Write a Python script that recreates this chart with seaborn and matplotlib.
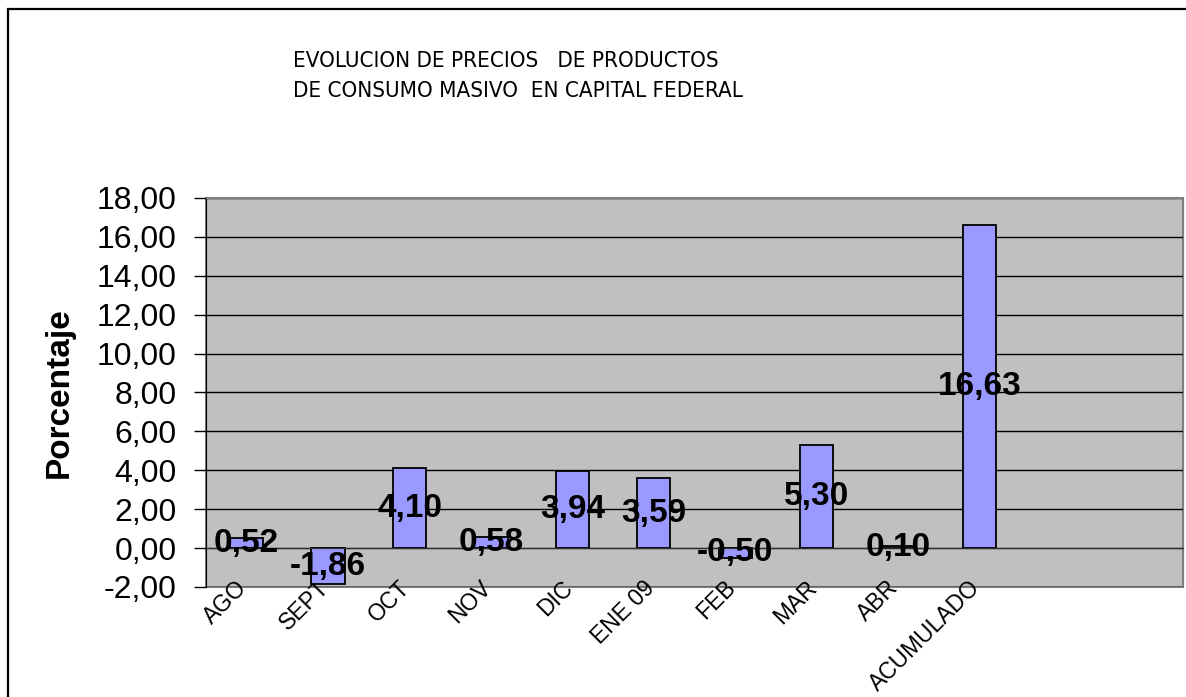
import numpy as np
import matplotlib
matplotlib.use("Agg")
import matplotlib.pyplot as plt
import seaborn as sns
from matplotlib import font_manager
from matplotlib.patches import Rectangle
from matplotlib.ticker import FuncFormatter
from matplotlib.transforms import ScaledTranslation

# datos
meses = ['AGO', 'SEPT', 'OCT', 'NOV', 'DIC', 'ENE 09', 'FEB', 'MAR', 'ABR', 'ACUMULADO']
variacion = [0.52, -1.86, 4.10, 0.58, 3.94, 3.59, -0.50, 5.30, 0.10, 16.63]
huecos = ['', ' ']  # dos categorias vacias al final, como en el original
y_ticks = list(range(-2, 19, 2))

titulo_1 = 'EVOLUCION DE PRECIOS   DE PRODUCTOS'
titulo_2 = 'DE CONSUMO MASIVO  EN CAPITAL FEDERAL'

sns.set_style('white')
plt.rcParams['font.family'] = ['Liberation Sans', 'DejaVu Sans']
plt.rcParams['text.color'] = 'black'
plt.rcParams['axes.labelcolor'] = 'black'
plt.rcParams['xtick.color'] = 'black'
plt.rcParams['ytick.color'] = 'black'

# el titulo del original usa una letra estrecha; se busca una condensada si la hay
nombres = {f.name for f in font_manager.fontManager.ttflist}
fuente_titulo = {'family': 'Liberation Sans', 'size': 15}
if 'Liberation Sans Narrow' in nombres:
    fuente_titulo = {'family': 'Liberation Sans Narrow', 'size': 18}
else:
    for f in font_manager.fontManager.ttflist:
        if f.name == 'DejaVu Sans' and f.stretch == 'condensed' and f.weight in (400, 'normal') \
                and f.style == 'normal':
            fuente_titulo = {'family': 'DejaVu Sans', 'stretch': 'condensed', 'size': 16}
            break


def coma(v, pos=None):
    return f'{v:.2f}'.replace('.', ',')


fig = plt.figure(figsize=(11.86, 6.97), dpi=100)
ax = fig.add_axes([206 / 1186, 1 - 587 / 697, 977 / 1186, 389 / 697])

sns.barplot(x=meses, y=variacion, order=meses + huecos, color='#9999FF',
            saturation=1, width=0.41, edgecolor='black', linewidth=1.3, ax=ax)

ax.bar_label(ax.containers[0], labels=[coma(v) for v in variacion], label_type='center',
             fontsize=24, fontweight='bold', color='black')

ax.set_ylim(-2, 18)
ax.set_xlim(-0.5, len(meses) + len(huecos) - 0.5)
ax.set_yticks(y_ticks)
ax.yaxis.set_major_formatter(FuncFormatter(coma))
ax.set_facecolor('#C0C0C0')
ax.yaxis.grid(True, color='black', linewidth=1)
ax.set_axisbelow(True)

# eje x sobre el cero, con marcas entre categorias
ax.spines['bottom'].set_position(('data', 0))
ax.spines['bottom'].set_color('#303030')
ax.spines['left'].set_color('black')
for s in ['top', 'right']:
    ax.spines[s].set_color('#808080')
ax.patch.set_edgecolor('#808080')
ax.patch.set_linewidth(1.5)

ax.set_xticks(np.arange(-0.5, len(meses) + len(huecos), 1), minor=True)
ax.tick_params(axis='x', which='minor', length=6, direction='out', color='#303030', width=1)
ax.tick_params(axis='x', which='major', length=0, pad=26)
ax.set_xticks(range(len(meses) + len(huecos)))
ax.set_xticklabels(meses + huecos, rotation=45, ha='right', va='center',
                   rotation_mode='anchor', fontsize=16.5)
desplaza = ScaledTranslation(-3 / 100, 0, fig.dpi_scale_trans)
for lab in ax.get_xticklabels():
    lab.set_transform(lab.get_transform() + desplaza)
ax.tick_params(axis='y', length=9, width=1, color='black', labelsize=23, pad=12, left=True)

ax.set_xlabel('')
ax.set_ylabel('Porcentaje', fontsize=24, fontweight='bold', labelpad=16)

fig.text(293 / 1186, 1 - 67 / 697, titulo_1, ha='left', va='baseline', **fuente_titulo)
fig.text(293 / 1186, 1 - 97 / 697, titulo_2, ha='left', va='baseline', **fuente_titulo)

# marco exterior del grafico
fig.patches.append(Rectangle((8 / 1186, -0.05), 1.2, 1.05 - 9 / 697, transform=fig.transFigure,
                             fill=False, edgecolor='black', linewidth=1.6))

fig.savefig('out.png', dpi=100)
